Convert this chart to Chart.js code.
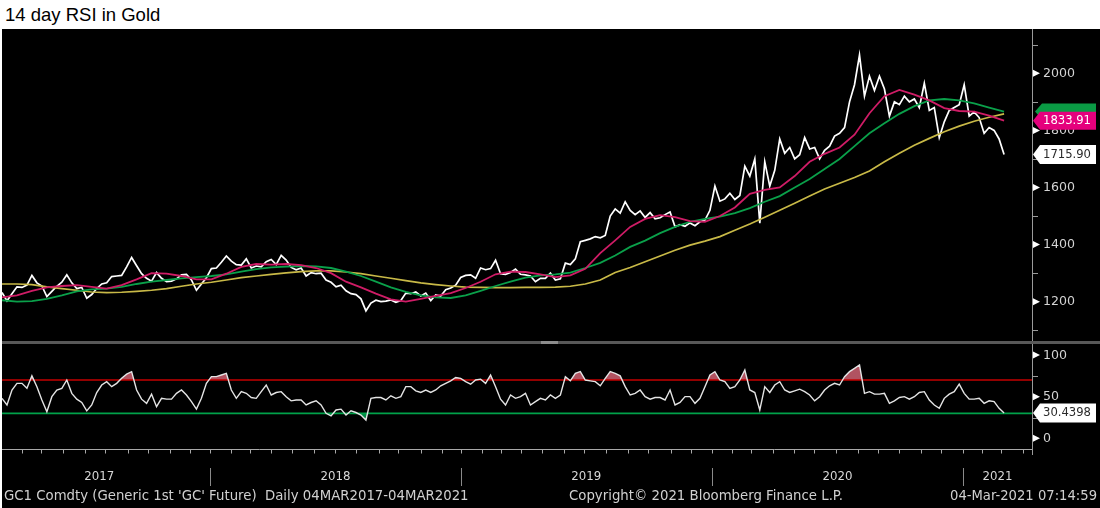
<!DOCTYPE html>
<html><head><meta charset="utf-8">
<script src="https://cdn.jsdelivr.net/npm/chart.js@4.4.1/dist/chart.umd.min.js"></script>
<style>
html,body{margin:0;padding:0;background:#fff;width:1100px;height:508px;overflow:hidden;position:relative;}
#title{position:absolute;left:5px;top:5px;font:18.5px 'Liberation Sans',Arial,sans-serif;color:#000;line-height:20px;white-space:nowrap;}
#bg{position:absolute;left:2px;top:29px;width:1098px;height:479px;background:#000;}
#cA{position:absolute;left:0;top:29px;}
#cB{position:absolute;left:0;top:341px;}
</style></head>
<body>
<div id="title">14 day RSI in Gold</div>
<div id="bg"></div>
<canvas id="cA" width="1100" height="312"></canvas>
<canvas id="cB" width="1100" height="167"></canvas>
<script>
// ---- data (x = trading-day index from 06-Mar-2017) ----
const priceStep = 5;
const price = [
1232,1203,1228,1252,1250,1258,1292,1266,1255,1218,
1236,1254,1268,1294,1266,1246,1250,1212,1225,1246,
1262,1266,1288,1290,1292,1322,1355,1326,1298,1282,
1272,1302,1282,1270,1272,1280,1294,1296,1276,1240,
1262,1284,1316,1318,1338,1360,1342,1330,1328,1350,
1318,1325,1322,1340,1348,1330,1362,1346,1320,1312,
1318,1290,1302,1298,1300,1276,1268,1252,1258,1238,
1228,1225,1210,1168,1195,1205,1200,1202,1206,1198,
1204,1230,1228,1234,1220,1230,1204,1224,1220,1242,
1248,1258,1285,1292,1294,1282,1318,1312,1316,1345,
1298,1296,1302,1314,1296,1294,1290,1270,1282,1282,
1300,1276,1280,1335,1330,1350,1410,1415,1420,1428,
1424,1432,1500,1525,1510,1550,1520,1505,1518,1495,
1512,1490,1494,1505,1514,1462,1470,1464,1476,1466,
1480,1486,1520,1605,1552,1560,1580,1558,1572,1675,
1640,1700,1475,1690,1605,1660,1770,1720,1740,1700,
1715,1775,1735,1740,1700,1730,1745,1780,1790,1810,
1900,1960,2064,1920,1990,1940,1990,1945,1850,1900,
1890,1920,1900,1910,1880,1965,1870,1880,1775,1830,
1870,1880,1890,1960,1850,1865,1845,1790,1810,1800,
1770,1715.90];
const maStep = 15;
const ma50 = [
1215,1222,1238,1250,1255,1258,1252,1246,1258,1278,
1300,1298,1290,1278,1278,1298,1322,1332,1330,1332,
1328,1318,1300,1270,1250,1228,1208,1200,1210,1220,
1230,1248,1270,1296,1305,1304,1296,1286,1292,1315,
1370,1415,1462,1490,1503,1496,1482,1480,1500,1530,
1578,1592,1600,1640,1690,1718,1740,1785,1860,1920,
1942,1925,1905,1878,1868,1866,1852,1833.91];
const ma100 = [
1205,1200,1202,1210,1222,1236,1243,1246,1252,1262,
1270,1276,1282,1286,1290,1296,1305,1314,1320,1323,
1325,1324,1318,1305,1290,1270,1250,1234,1222,1215,
1213,1222,1238,1255,1270,1284,1292,1296,1302,1318,
1336,1362,1392,1414,1440,1462,1480,1490,1498,1510,
1528,1550,1570,1600,1630,1665,1700,1745,1790,1825,
1858,1885,1905,1910,1905,1895,1880,1866];
const ma200 = [
1262,1262,1260,1252,1246,1240,1234,1232,1233,1236,
1240,1246,1254,1262,1268,1276,1284,1290,1296,1301,
1305,1308,1308,1304,1298,1290,1282,1274,1266,1260,
1255,1251,1250,1249,1249,1250,1250,1251,1254,1262,
1276,1302,1320,1340,1360,1380,1398,1412,1428,1450,
1472,1496,1520,1545,1570,1595,1615,1635,1658,1690,
1720,1748,1772,1795,1815,1832,1846,1858];
const rsiStep = 5;
const rsi = [
48,40,58,66,66,60,75,62,46,32,
50,58,60,70,54,47,43,33,40,55,
64,68,62,66,72,77,80,58,47,42,
53,38,48,47,47,54,58,52,44,35,
48,66,74,74,76,78,58,48,56,54,
49,48,56,64,52,55,56,50,45,46,
46,40,43,45,40,30,27,34,35,28,
33,31,28,22,48,49,49,46,51,48,
50,62,62,57,55,58,55,58,63,66,
69,73,72,68,65,70,71,66,76,62,
47,40,52,48,50,54,40,44,48,46,
52,48,52,74,69,78,80,70,69,68,
63,72,80,78,75,62,52,54,58,50,
47,49,49,46,58,40,43,50,50,42,
48,62,76,80,70,68,60,62,70,82,
58,55,34,62,55,64,68,58,55,57,
59,56,52,45,50,58,63,66,64,74,
80,84,88,54,56,53,53,54,42,45,
49,50,47,50,55,56,46,40,36,48,
53,56,65,54,47,47,48,42,45,44,
36,30.4398];
const rsiUpper = 70, rsiLower = 30;
const priceTicks = [1200,1400,1600,1800,2000];
const priceMinor = [1100,1300,1500,1700,1900,2100];
const rsiTicks = [0,50,100];
const rsiMinor = [25,75];
const yearLabels = ['2017','2018','2019','2020','2021'];
const yearStarts = [209,460,712,964];           // first session of 2018..2021
const monthStarts = [20,39,61,83,103,126,146,168,189,209,230,249,270,291,313,334,355,378,397,420,441,
  460,481,500,521,542,564,584,606,628,648,671,691,712,732,751,773,794,814,836,858,879,900,922,942,964,983,1002,1024];
const xMin = 0, xMax = 1033;
const firstLabelFrom = -14;   // 2017 label is centred on the whole calendar year's span
const footerLeft = "GC1 Comdty (Generic 1st 'GC' Future)  Daily 04MAR2017-04MAR2021";
const footerMid = "Copyright\u00A9 2021 Bloomberg Finance L.P.";
const footerRight = "04-Mar-2021 07:14:59";

const FAM = "'DejaVu Sans', Verdana, sans-serif";
const toXY = (arr, step) => arr.map((v, i) => ({x: i * step, y: v}));
const last = a => a[a.length - 1];

function fitFont(ctx, text, w) {
  ctx.font = '100px ' + FAM;
  return (100 * w / ctx.measureText(text).width).toFixed(2) + 'px ' + FAM;
}
function tag(ctx, xl, y, h, fill, text, color, font) {
  ctx.beginPath();
  ctx.moveTo(xl, y);
  ctx.lineTo(xl + 7, y - h / 2);
  ctx.lineTo(1096, y - h / 2);
  ctx.lineTo(1096, y + h / 2);
  ctx.lineTo(xl + 7, y + h / 2);
  ctx.closePath();
  ctx.fillStyle = fill; ctx.fill();
  if (text) {
    ctx.font = font; ctx.fillStyle = color; ctx.textAlign = 'left'; ctx.textBaseline = 'middle';
    ctx.fillText(text, xl + 10, y + 0.5);
  }
}
function yTicks(ctx, ca, y, majors, minors, labelFont) {
  ctx.strokeStyle = '#9a9a9a'; ctx.lineWidth = 1;
  minors.forEach(v => {
    const py = Math.round(y.getPixelForValue(v)) + 0.5;
    ctx.beginPath(); ctx.moveTo(ca.right, py); ctx.lineTo(ca.right + 6, py); ctx.stroke();
  });
  majors.forEach(v => {
    const py = y.getPixelForValue(v);
    ctx.fillStyle = '#ffffff';
    ctx.beginPath(); ctx.moveTo(ca.right + 1, py - 3.5); ctx.lineTo(ca.right + 8, py); ctx.lineTo(ca.right + 1, py + 3.5); ctx.closePath(); ctx.fill();
    ctx.fillStyle = '#d4d4d4'; ctx.font = labelFont; ctx.textAlign = 'left'; ctx.textBaseline = 'middle';
    ctx.fillText(String(v), ca.right + 11, py + 0.5);
  });
}

const axisA = {
  id: 'axisA',
  afterDraw(chart) {
    const {ctx, chartArea: ca} = chart; const y = chart.scales.y;
    ctx.save();
    ctx.strokeStyle = '#9a9a9a'; ctx.lineWidth = 1;
    ctx.beginPath(); ctx.moveTo(ca.right + 0.5, 0); ctx.lineTo(ca.right + 0.5, chart.height); ctx.stroke();
    const lf = fitFont(ctx, '2000', 32);
    yTicks(ctx, ca, y, priceTicks, priceMinor, lf);
    const tf = fitFont(ctx, '1833.91', 48);
    const pinkY = y.getPixelForValue(last(ma50));
    // 100-day tag, pushed up behind the 50-day tag
    tag(ctx, ca.right + 3, Math.min(y.getPixelForValue(last(ma100)), pinkY - 6), 16, '#0a9a44', '', '#fff', tf);
    tag(ctx, ca.right + 1, pinkY, 18, '#e5007d', last(ma50).toFixed(2), '#ffffff', tf);
    tag(ctx, ca.right + 1, y.getPixelForValue(last(price)), 19, '#ffffff', last(price).toFixed(2), '#2a2a2a', tf);
    ctx.restore();
  }
};

const axisB = {
  id: 'axisB',
  afterDraw(chart) {
    const {ctx, chartArea: ca} = chart; const y = chart.scales.y, x = chart.scales.x;
    ctx.save();
    ctx.fillStyle = '#585858'; ctx.fillRect(2, 0, 1098, 3);
    ctx.fillStyle = '#8c8c8c'; ctx.fillRect(541, 0, 17, 3);
    ctx.strokeStyle = '#9a9a9a'; ctx.lineWidth = 1;
    ctx.beginPath(); ctx.moveTo(ca.right + 0.5, 3); ctx.lineTo(ca.right + 0.5, ca.bottom + 6); ctx.stroke();
    const lf = fitFont(ctx, '2000', 32);
    yTicks(ctx, ca, y, rsiTicks, rsiMinor, lf);
    const ay = ca.bottom + 0.5;
    ctx.strokeStyle = '#a8a8a8';
    ctx.beginPath(); ctx.moveTo(ca.left, ay); ctx.lineTo(ca.right, ay); ctx.stroke();
    monthStarts.forEach(d => {
      const px = Math.round(x.getPixelForValue(d)) + 0.5;
      ctx.beginPath(); ctx.moveTo(px, ay); ctx.lineTo(px, ay + 4); ctx.stroke();
    });
    ctx.strokeStyle = '#8a8a8a';
    yearStarts.forEach(d => {
      const px = Math.round(x.getPixelForValue(d)) + 0.5;
      ctx.beginPath(); ctx.moveTo(px, ca.bottom + 19); ctx.lineTo(px, ca.bottom + 37); ctx.stroke();
    });
    const bounds = [firstLabelFrom].concat(yearStarts, [xMax]);
    ctx.font = fitFont(ctx, '2018', 30); ctx.fillStyle = '#d8d8d8'; ctx.textAlign = 'center'; ctx.textBaseline = 'middle';
    yearLabels.forEach((t, i) => {
      const cx = (x.getPixelForValue(bounds[i]) + x.getPixelForValue(bounds[i + 1])) / 2;
      ctx.fillText(t, cx, ca.bottom + 28);
    });
    ctx.fillStyle = '#d0d0d0'; ctx.textBaseline = 'middle';
    ctx.textAlign = 'left';
    ctx.font = fitFont(ctx, footerLeft, 465); ctx.fillText(footerLeft, 4, ca.bottom + 48);
    ctx.font = fitFont(ctx, footerMid, 274); ctx.fillText(footerMid, 569, ca.bottom + 48);
    ctx.textAlign = 'right';
    ctx.font = fitFont(ctx, footerRight, 147); ctx.fillText(footerRight, 1097, ca.bottom + 48);
    const tf = fitFont(ctx, '1833.91', 48);
    tag(ctx, ca.right + 1, y.getPixelForValue(last(rsi)), 19, '#ffffff', String(last(rsi)), '#2a2a2a', tf);
    ctx.restore();
  }
};

const lineDs = (data, color, w, order) => ({data, borderColor: color, borderWidth: w, pointRadius: 0, fill: false, tension: 0, order});
const xScale = {type: 'linear', min: xMin, max: xMax, display: false};

new Chart(document.getElementById('cA'), {
  type: 'line',
  data: {datasets: [
    lineDs(toXY(price, priceStep), '#ffffff', 1.7, 10),
    lineDs(toXY(ma200, maStep), '#c8b947', 1.7, 3),
    lineDs(toXY(ma100, maStep), '#0aa04a', 1.8, 2),
    lineDs(toXY(ma50, maStep), '#cf1c66', 1.8, 1)
  ]},
  options: {
    responsive: false, animation: false, events: [],
    layout: {padding: {left: 2, right: 68, top: 0, bottom: 0}},
    scales: {x: xScale, y: {type: 'linear', min: 1062.3, max: 2155.2, display: false}},
    plugins: {legend: {display: false}, tooltip: {enabled: false}}
  },
  plugins: [axisA]
});

new Chart(document.getElementById('cB'), {
  type: 'line',
  data: {datasets: [
    Object.assign(lineDs(toXY(rsi, rsiStep), 'rgba(0,0,0,0)', 0, 9), {fill: {target: {value: rsiUpper}, above: 'rgba(196,92,108,0.9)', below: 'rgba(0,0,0,0)'}}),
    Object.assign(lineDs(toXY(rsi, rsiStep), 'rgba(0,0,0,0)', 0, 8), {fill: {target: {value: rsiLower}, above: 'rgba(0,0,0,0)', below: 'rgba(0,160,80,0.85)'}}),
    lineDs([{x: xMin, y: rsiUpper}, {x: xMax, y: rsiUpper}], '#c40000', 1.6, 5),
    lineDs([{x: xMin, y: rsiLower}, {x: xMax, y: rsiLower}], '#00a24a', 1.6, 4),
    lineDs(toXY(rsi, rsiStep), '#e4e4e4', 1.4, 1)
  ]},
  options: {
    responsive: false, animation: false, events: [],
    layout: {padding: {left: 2, right: 68, top: 3, bottom: 59}},
    scales: {x: xScale, y: {type: 'linear', min: -12.8, max: 113.2, display: false}},
    plugins: {legend: {display: false}, tooltip: {enabled: false}, filler: {drawTime: 'beforeDatasetsDraw'}}
  },
  plugins: [axisB]
});
</script>
</body></html>
